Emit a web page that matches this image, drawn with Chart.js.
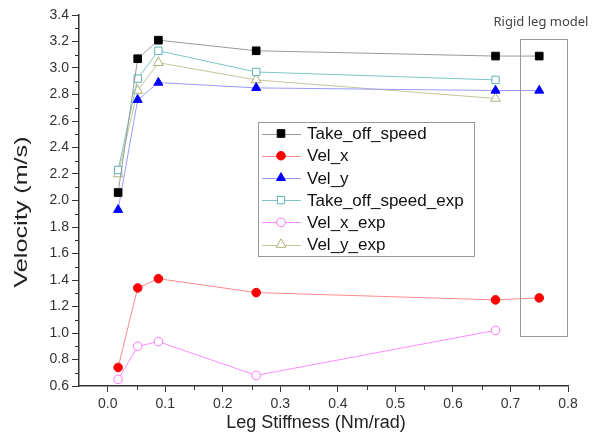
<!DOCTYPE html>
<html lang="en">
<head>
<meta charset="UTF-8">
<title>Leg stiffness vs velocity</title>
<script src="https://cdn.jsdelivr.net/npm/chart.js"></script>
<style>
  body { margin: 0; background: #fff; }
  canvas { display: block; }
</style>
</head>
<body>
<canvas id="chart" width="600" height="434"></canvas>
<script>
// data
const stiffness = [0.018, 0.052, 0.088, 0.258, 0.674, 0.75];
const takeOffSpeed = [2.06, 3.07, 3.21, 3.13, 3.09, 3.09];
const velX = [0.74, 1.34, 1.41, 1.305, 1.25, 1.265];
const velY = [1.93, 2.76, 2.89, 2.85, 2.83, 2.83];
const takeOffSpeedExp = [2.23, 2.92, 3.13, 2.97, 2.91];
const velXExp = [0.65, 0.90, 0.935, 0.68, 1.02];
const velYExp = [2.20, 2.83, 3.04, 2.91, 2.77];

const xTicks = [0.0, 0.1, 0.2, 0.3, 0.4, 0.5, 0.6, 0.7, 0.8];
const yTicks = [0.6, 0.8, 1.0, 1.2, 1.4, 1.6, 1.8, 2.0, 2.2, 2.4, 2.6, 2.8, 3.0, 3.2, 3.4];

// rigid leg box, in data units
const rigidBox = { x0: 0.717, x1: 0.799, y0: 0.98, y1: 3.22 };

const FONT = "'Liberation Sans', Arial, sans-serif";
const AXIS = '#333';

function pts(ys) {
  return ys.map((y, i) => ({ x: stiffness[i], y: y }));
}

function series(label, ys, line, style, r, fill, border) {
  return {
    label: label,
    data: pts(ys),
    showLine: true,
    borderColor: line,
    borderWidth: 1,
    pointStyle: style,
    pointRadius: r,
    pointHoverRadius: r,
    pointBackgroundColor: fill,
    pointBorderColor: border,
    pointBorderWidth: 1
  };
}

const datasets = [
  series('Take_off_speed', takeOffSpeed, '#9a9a9a', 'rect', 5.4, '#000', '#000'),
  series('Vel_x', velX, '#ff8a8a', 'circle', 4.3, '#ff0000', '#ff0000'),
  series('Vel_y', velY, '#9a9aff', 'triangle', 5.2, '#0000ff', '#0000ff'),
  series('Take_off_speed_exp', takeOffSpeedExp, '#7cc6c6', 'rect', 5.2, '#fff', '#5fb3b3'),
  series('Vel_x_exp', velXExp, '#ff8cff', 'circle', 4.3, '#fff', '#ff70ff'),
  series('Vel_y_exp', velYExp, '#c4c49a', 'triangle', 5.6, '#fff', '#b0b07a')
];

function drawMarker(ctx, style, r, x, y) {
  if (style === 'rect') {
    const s = Math.SQRT1_2 * r;
    ctx.rect(x - s, y - s, 2 * s, 2 * s);
  } else if (style === 'circle') {
    ctx.arc(x, y, r, 0, Math.PI * 2);
  } else {
    ctx.moveTo(x, y - r);
    ctx.lineTo(x + r * Math.sin(Math.PI / 3), y + r / 2);
    ctx.lineTo(x - r * Math.sin(Math.PI / 3), y + r / 2);
    ctx.closePath();
  }
}

const extras = {
  id: 'extras',
  afterDraw(chart) {
    const ctx = chart.ctx;
    const xs = chart.scales.x, ys = chart.scales.y;
    ctx.save();

    // minor ticks
    ctx.strokeStyle = AXIS;
    ctx.lineWidth = 1;
    ctx.beginPath();
    for (let i = 0; i < xTicks.length - 1; i++) {
      const px = Math.round(xs.getPixelForValue((xTicks[i] + xTicks[i + 1]) / 2)) + 0.5;
      ctx.moveTo(px, ys.bottom);
      ctx.lineTo(px, ys.bottom + 4);
    }
    for (let i = 0; i < yTicks.length - 1; i++) {
      const py = Math.round(ys.getPixelForValue((yTicks[i] + yTicks[i + 1]) / 2)) + 0.5;
      ctx.moveTo(xs.left, py);
      ctx.lineTo(xs.left - 4, py);
    }
    ctx.stroke();

    // rigid leg box
    const bx0 = xs.getPixelForValue(rigidBox.x0), bx1 = xs.getPixelForValue(rigidBox.x1);
    const by0 = ys.getPixelForValue(rigidBox.y1), by1 = ys.getPixelForValue(rigidBox.y0);
    ctx.strokeStyle = '#999';
    ctx.strokeRect(Math.round(bx0) + 0.5, Math.round(by0) + 0.5, Math.round(bx1 - bx0), Math.round(by1 - by0));
    ctx.fillStyle = '#444';
    ctx.font = "13px 'Noto Sans', 'DejaVu Sans', sans-serif";
    ctx.textAlign = 'center';
    ctx.textBaseline = 'middle';
    ctx.fillText('Rigid leg model', 541, 22);

    // axis titles
    ctx.fillStyle = '#222';
    ctx.font = '18px ' + FONT;
    ctx.fillText('Leg Stiffness (Nm/rad)', 316, 423);
    ctx.save();
    ctx.translate(22, 212);
    ctx.rotate(-Math.PI / 2);
    ctx.scale(1.4, 1);
    ctx.fillText('Velocity (m/s)', 0, 0);
    ctx.restore();

    // legend
    const lx = 258, ly = 122, lw = 216, lh = 134, row = 22.2;
    ctx.fillStyle = '#fff';
    ctx.fillRect(lx, ly, lw, lh);
    ctx.strokeStyle = '#999';
    ctx.lineWidth = 1;
    ctx.strokeRect(lx + 0.5, ly + 0.5, lw, lh);
    ctx.font = '17px ' + FONT;
    ctx.textAlign = 'left';
    chart.data.datasets.forEach((ds, i) => {
      const cy = ly + 11.5 + i * row;
      ctx.strokeStyle = ds.borderColor;
      ctx.beginPath();
      ctx.moveTo(lx + 4, Math.round(cy) + 0.5);
      ctx.lineTo(lx + 43, Math.round(cy) + 0.5);
      ctx.stroke();
      ctx.fillStyle = ds.pointBackgroundColor;
      ctx.strokeStyle = ds.pointBorderColor;
      ctx.beginPath();
      drawMarker(ctx, ds.pointStyle, ds.pointRadius, lx + 23, cy);
      ctx.fill();
      ctx.stroke();
      ctx.fillStyle = '#111';
      ctx.fillText(ds.label, lx + 49, cy + 1);
    });
    ctx.restore();
  }
};

new Chart(document.getElementById('chart'), {
  type: 'scatter',
  data: { datasets: datasets },
  plugins: [extras],
  options: {
    responsive: false,
    animation: false,
    layout: { padding: { top: 15, right: 32, left: 0, bottom: 0 } },
    plugins: { legend: { display: false }, tooltip: { enabled: false } },
    scales: {
      x: {
        type: 'linear',
        min: -0.05,
        max: 0.8,
        afterBuildTicks: s => { s.ticks = xTicks.map(v => ({ value: v })); },
        afterFit: s => { s.height = 48; },
        border: { display: true, color: AXIS, width: 1.5 },
        grid: { drawOnChartArea: false, drawTicks: true, tickLength: 6, tickColor: AXIS, tickWidth: 1 },
        ticks: {
          color: '#333',
          padding: 4,
          font: { family: FONT, size: 14 },
          callback: v => v.toFixed(1)
        }
      },
      y: {
        type: 'linear',
        min: 0.6,
        max: 3.4,
        afterBuildTicks: s => { s.ticks = yTicks.map(v => ({ value: v })); },
        afterFit: s => { s.width = 79; },
        border: { display: true, color: AXIS, width: 1.5 },
        grid: { drawOnChartArea: false, drawTicks: true, tickLength: 7, tickColor: AXIS, tickWidth: 1 },
        ticks: {
          color: '#333',
          padding: 3,
          font: { family: FONT, size: 14 },
          callback: v => v.toFixed(1)
        }
      }
    }
  }
});
</script>
</body>
</html>
